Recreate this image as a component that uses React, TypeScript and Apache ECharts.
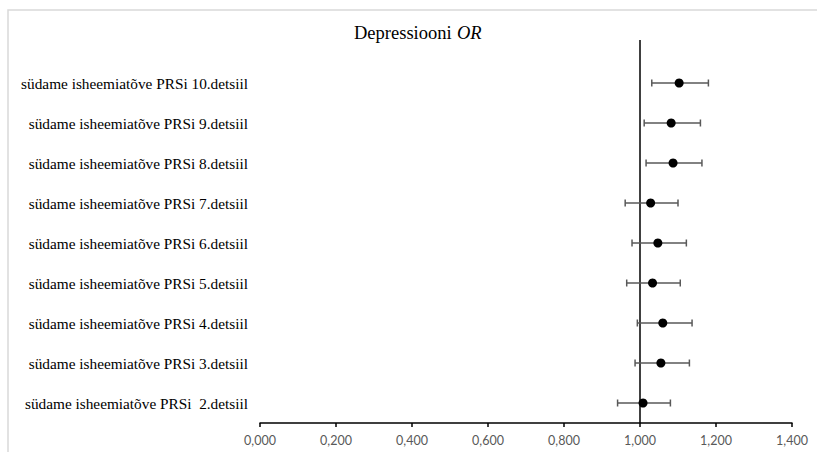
import React, { useEffect, useRef } from "react";
import * as echarts from "echarts";

const categories = [
  "südame isheemiatõve PRSi  2.detsiil",
  "südame isheemiatõve PRSi 3.detsiil",
  "südame isheemiatõve PRSi 4.detsiil",
  "südame isheemiatõve PRSi 5.detsiil",
  "südame isheemiatõve PRSi 6.detsiil",
  "südame isheemiatõve PRSi 7.detsiil",
  "südame isheemiatõve PRSi 8.detsiil",
  "südame isheemiatõve PRSi 9.detsiil",
  "südame isheemiatõve PRSi 10.detsiil",
];
const orValues = [1.008, 1.055, 1.06, 1.033, 1.047, 1.028, 1.087, 1.082, 1.103];
const lowerCI = [0.941, 0.987, 0.993, 0.965, 0.979, 0.961, 1.016, 1.011, 1.031];
const upperCI = [1.08, 1.13, 1.137, 1.106, 1.122, 1.1, 1.163, 1.159, 1.18];
const referenceValue = 1;
const xTicks = { min: 0, max: 1.4, interval: 0.2 };
const titleMain = "Depressiooni";
const titleItalic = "OR";

export default function App() {
  const ref = useRef<HTMLDivElement>(null);
  useEffect(() => {
    if (!ref.current) return;
    const chart = echarts.init(ref.current, null, { renderer: "svg" });
    const pointData = orValues.map((v, i) => [v, i]);
    const ciData = lowerCI.map((l, i) => [l, upperCI[i], i]);
    chart.setOption({
      animation: false,
      backgroundColor: "#ffffff",
      graphic: [
        {
          type: "rect",
          shape: { x: 8, y: 10, width: 900, height: 600 },
          style: { fill: "none", stroke: "#d9d9d9", lineWidth: 1.5 },
          silent: true,
          z: -10,
        },
        {
          type: "text",
          x: 354,
          y: 33,
          silent: true,
          style: {
            text: titleMain,
            fill: "#000",
            fontFamily: "Liberation Serif",
            fontSize: 18.5,
            verticalAlign: "middle",
            align: "left",
          },
        },
        {
          type: "text",
          x: 457,
          y: 33,
          silent: true,
          style: {
            text: titleItalic,
            fill: "#000",
            fontFamily: "Liberation Serif",
            fontStyle: "italic",
            fontSize: 18.5,
            verticalAlign: "middle",
            align: "left",
          },
        },
      ],
      grid: { left: 260, right: 25, top: 40, bottom: 29, containLabel: false },
      xAxis: {
        type: "value",
        min: xTicks.min,
        max: xTicks.max,
        interval: xTicks.interval,
        axisLine: { show: true, onZero: false, lineStyle: { color: "#000", width: 1.5 } },
        axisTick: { show: true, length: 4, lineStyle: { color: "#000", width: 1.5 } },
        splitLine: { show: false },
        axisLabel: {
          color: "#595959",
          fontFamily: "Lato",
          fontSize: 12.5,
          margin: 11,
          formatter: (v: number) => v.toFixed(3).replace(".", ","),
        },
      },
      yAxis: {
        type: "value",
        min: -0.5,
        max: 9.075,
        interval: 0.5,
        axisLine: { show: false },
        axisTick: { show: false },
        splitLine: { show: false },
        axisLabel: {
          color: "#000",
          fontFamily: "Liberation Serif",
          fontSize: 15.3,
          margin: 12,
          showMaxLabel: false,
          formatter: (v: number) => {
            const i = Math.round(v);
            if (Math.abs(v - i) < 1e-6 && i >= 0 && i < categories.length) return categories[i];
            return "";
          },
        },
      },
      series: [
        {
          type: "custom",
          z: 2,
          silent: true,
          renderItem: (params: any, api: any) => {
            const lo = api.coord([api.value(0), api.value(2)]);
            const hi = api.coord([api.value(1), api.value(2)]);
            const cap = 3.5;
            const style = { stroke: "#595959", lineWidth: 1.5 };
            return {
              type: "group",
              children: [
                { type: "line", shape: { x1: lo[0], y1: lo[1], x2: hi[0], y2: hi[1] }, style },
                { type: "line", shape: { x1: lo[0], y1: lo[1] - cap, x2: lo[0], y2: lo[1] + cap }, style },
                { type: "line", shape: { x1: hi[0], y1: hi[1] - cap, x2: hi[0], y2: hi[1] + cap }, style },
              ],
            };
          },
          data: ciData,
        },
        {
          type: "scatter",
          z: 3,
          symbol: "circle",
          symbolSize: 9,
          itemStyle: { color: "#000", opacity: 1 },
          data: pointData,
          markLine: {
            silent: true,
            symbol: "none",
            label: { show: false },
            lineStyle: { color: "#000", width: 1.5, type: "solid" },
            data: [{ xAxis: referenceValue }],
            z: 1,
          },
        },
      ],
    });
    return () => chart.dispose();
  }, []);
  return (
    <div
      ref={ref}
      style={{ position: "fixed", left: 0, top: 0, width: 817, height: 452 }}
    />
  );
}
